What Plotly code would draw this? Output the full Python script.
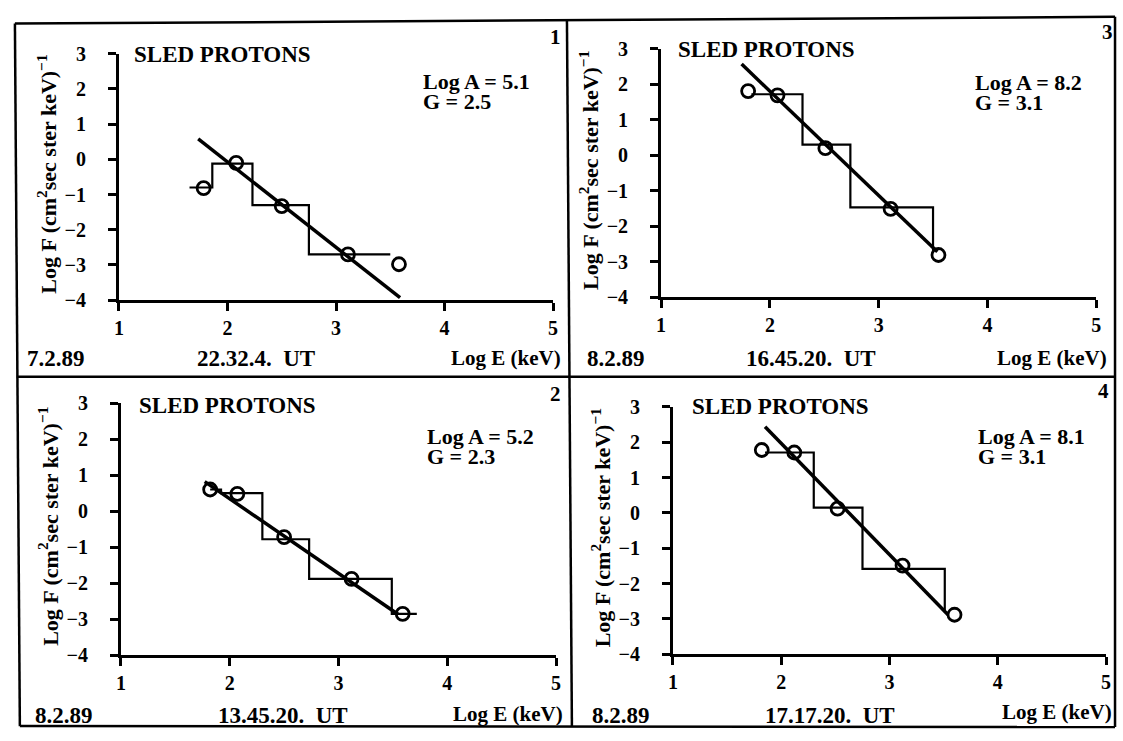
import plotly.graph_objects as go

# ---------------- data ----------------
# panel 1 : 7.2.89  22.32.4. UT
p1_pts_x = [1.78, 2.08, 2.50, 3.11, 3.58]
p1_pts_y = [-0.82, -0.10, -1.33, -2.70, -2.98]
p1_step_x = [1.65, 1.86, 2.23, 2.75, 3.50]
p1_step_y = [-0.80, -0.12, -1.30, -2.70, -2.70]
p1_fit_x = [1.73, 3.59]
p1_fit_y = [0.58, -3.93]

# panel 2 : 8.2.89  13.45.20. UT
p2_pts_x = [1.82, 2.07, 2.50, 3.12, 3.59]
p2_pts_y = [0.60, 0.48, -0.72, -1.88, -2.85]
p2_step_x = [1.82, 1.92, 2.30, 2.73, 3.49, 3.72]
p2_step_y = [0.60, 0.50, -0.78, -1.88, -2.85, -2.85]
p2_fit_x = [1.77, 3.55]
p2_fit_y = [0.82, -2.87]

# panel 3 : 8.2.89  16.45.20. UT
p3_pts_x = [1.80, 2.07, 2.51, 3.11, 3.55]
p3_pts_y = [1.81, 1.69, 0.20, -1.51, -2.81]
p3_step_x = [1.83, 2.30, 2.74, 3.50]
p3_step_y = [1.72, 0.30, -1.47, -2.72]
p3_fit_x = [1.74, 3.54]
p3_fit_y = [2.57, -2.72]

# panel 4 : 8.2.89  17.17.20. UT
p4_pts_x = [1.82, 2.12, 2.52, 3.12, 3.60]
p4_pts_y = [1.78, 1.71, 0.12, -1.49, -2.88]
p4_step_x = [1.85, 2.30, 2.75, 3.51]
p4_step_y = [1.71, 0.15, -1.58, -2.75]
p4_fit_x = [1.85, 3.54]
p4_fit_y = [2.44, -2.88]

x_ticks = [1, 2, 3, 4, 5]
y_ticks = [3, 2, 1, 0, -1, -2, -3, -4]
x_tick_text = ["1", "2", "3", "4", "5"]
y_tick_text = ["3", "2", "1", "0", "\u22121", "\u22122", "\u22123", "\u22124"]

dates = ["7.2.89", "8.2.89", "8.2.89", "8.2.89"]
times = ["22.32.4.  UT", "13.45.20.  UT", "16.45.20.  UT", "17.17.20.  UT"]
log_a = ["Log A = 5.1", "Log A = 5.2", "Log A = 8.2", "Log A = 8.1"]
g_vals = ["G = 2.5", "G = 2.3", "G = 3.1", "G = 3.1"]
numbers = ["1", "2", "3", "4"]

# ---------------- layout helpers ----------------
W, H = 1123, 741
FONT = "Liberation Serif"


def fx(px):
    return px / W


def fy(py):
    return 1 - py / H


def b(t):
    return "<b>" + t + "</b>"


# panel geometry in pixels: axis x-range, y-range, and text anchors
panels = [
    dict(num=0, ax=(115, 553), ay=(44, 298), data=(p1_pts_x, p1_pts_y, p1_step_x, p1_step_y, p1_fit_x, p1_fit_y),
         sled=(128, 45), loga=(420, 73, 93), corner=(563, 27), date=(20, 358), time=(253, 358), loge=(563, 358)),
    dict(num=1, ax=(117, 556), ay=(404, 664), data=(p2_pts_x, p2_pts_y, p2_step_x, p2_step_y, p2_fit_x, p2_fit_y),
         sled=(133, 407), loga=(424, 439, 459), corner=(563, 395), date=(28, 726), time=(280, 726), loge=(565, 724)),
    dict(num=2, ax=(662, 1101), ay=(39, 295), data=(p3_pts_x, p3_pts_y, p3_step_x, p3_step_y, p3_fit_x, p3_fit_y),
         sled=(677, 40), loga=(977, 74, 94), corner=(1120, 22), date=(585, 358), time=(813, 358), loge=(1114, 358)),
    dict(num=3, ax=(674, 1111), ay=(408, 663), data=(p4_pts_x, p4_pts_y, p4_step_x, p4_step_y, p4_fit_x, p4_fit_y),
         sled=(691, 408), loga=(980, 439, 459), corner=(1116, 392), date=(590, 726), time=(832, 726), loge=(1119, 722)),
]

fig = go.Figure()
annotations = []
layout_axes = {}

tfont = dict(family=FONT, size=20, color="black")

for i, p in enumerate(panels):
    n = "" if i == 0 else str(i + 1)
    xa, ya = "x" + n, "y" + n
    px_, py_, sx, sy, fx_, fy_ = p["data"]
    # step histogram
    fig.add_trace(go.Scatter(x=sx, y=sy, mode="lines", line=dict(color="black", width=2.2, shape="hv"),
                             xaxis=xa, yaxis=ya, showlegend=False, hoverinfo="skip"))
    # fitted power law
    fig.add_trace(go.Scatter(x=fx_, y=fy_, mode="lines", line=dict(color="black", width=3.5),
                             xaxis=xa, yaxis=ya, showlegend=False, hoverinfo="skip"))
    # data points
    fig.add_trace(go.Scatter(x=px_, y=py_, mode="markers",
                             marker=dict(symbol="circle-open", size=13, color="black", line=dict(width=2.8)),
                             xaxis=xa, yaxis=ya, showlegend=False))

    x0, x1 = p["ax"]
    y0, y1 = p["ay"]
    common = dict(showline=True, linewidth=3, linecolor="black", ticks="outside", ticklen=8, tickwidth=3,
                  tickcolor="black", showgrid=False, zeroline=False, tickfont=tfont)
    layout_axes["xaxis" + n] = dict(domain=[fx(x0), fx(x1)], range=[1, 5], tickvals=x_ticks,
                                    ticktext=[b(t) for t in x_tick_text],
                                    anchor=ya, ticklabelstandoff=0, **common)
    layout_axes["yaxis" + n] = dict(domain=[fy(y1), fy(y0)], range=[-4, 3], tickvals=y_ticks,
                                    ticktext=[b(t) for t in y_tick_text],
                                    anchor=xa, ticklabelstandoff=18, **common)

    k = p["num"]
    # y-axis title
    annotations.append(dict(x=fx(x0 - 73), y=fy((y0 + y1) / 2 - 3), xref="paper", yref="paper",
                            text=b("Log F (cm<sup>2</sup>sec ster keV)<sup>\u22121</sup>"), textangle=-90,
                            showarrow=False, font=dict(tfont, size=22), xanchor="center", yanchor="middle"))
    annotations.append(dict(x=fx(p["sled"][0]), y=fy(p["sled"][1]), xref="paper", yref="paper",
                            text=b("SLED PROTONS"), showarrow=False, font=dict(tfont, size=23),
                            xanchor="left", yanchor="middle"))
    annotations.append(dict(x=fx(p["loga"][0]), y=fy(p["loga"][1]), xref="paper", yref="paper",
                            text=b(log_a[k]), showarrow=False, font=dict(tfont, size=22),
                            xanchor="left", yanchor="middle"))
    annotations.append(dict(x=fx(p["loga"][0]), y=fy(p["loga"][2]), xref="paper", yref="paper",
                            text=b(g_vals[k]), showarrow=False, font=dict(tfont, size=22),
                            xanchor="left", yanchor="middle"))
    annotations.append(dict(x=fx(p["corner"][0]), y=fy(p["corner"][1]), xref="paper", yref="paper",
                            text=b(numbers[k]), showarrow=False, font=dict(tfont, size=21),
                            xanchor="right", yanchor="middle"))
    annotations.append(dict(x=fx(p["date"][0]), y=fy(p["date"][1]), xref="paper", yref="paper",
                            text=b(dates[k]), showarrow=False, font=dict(tfont, size=23),
                            xanchor="left", yanchor="middle"))
    annotations.append(dict(x=fx(p["time"][0]), y=fy(p["time"][1]), xref="paper", yref="paper",
                            text=b(times[k].replace("  ", "\u00a0\u00a0")), showarrow=False,
                            font=dict(tfont, size=23), xanchor="center", yanchor="middle"))
    annotations.append(dict(x=fx(p["loge"][0]), y=fy(p["loge"][1]), xref="paper", yref="paper",
                            text=b("Log E (keV)"), showarrow=False, font=dict(tfont, size=21),
                            xanchor="right", yanchor="middle"))

# frame lines (outer border and dividers)
frame = [
    ((10, 13), (1120, 6)),
    ((10, 13), (15, 737)),
    ((15, 737), (1120, 738)),
    ((1120, 6), (1120, 738)),
    ((567, 10), (572, 737)),
    ((12, 377), (1120, 377)),
]
shapes = [dict(type="line", xref="paper", yref="paper", x0=fx(a[0]), y0=fy(a[1]), x1=fx(c[0]), y1=fy(c[1]),
               line=dict(color="black", width=2.5)) for a, c in frame]

fig.update_layout(width=W, height=H, margin=dict(l=0, r=0, t=0, b=0), paper_bgcolor="white",
                  plot_bgcolor="white", showlegend=False, annotations=annotations, shapes=shapes,
                  font=dict(family=FONT, color="black"), **layout_axes)

fig.write_html("out.html")
